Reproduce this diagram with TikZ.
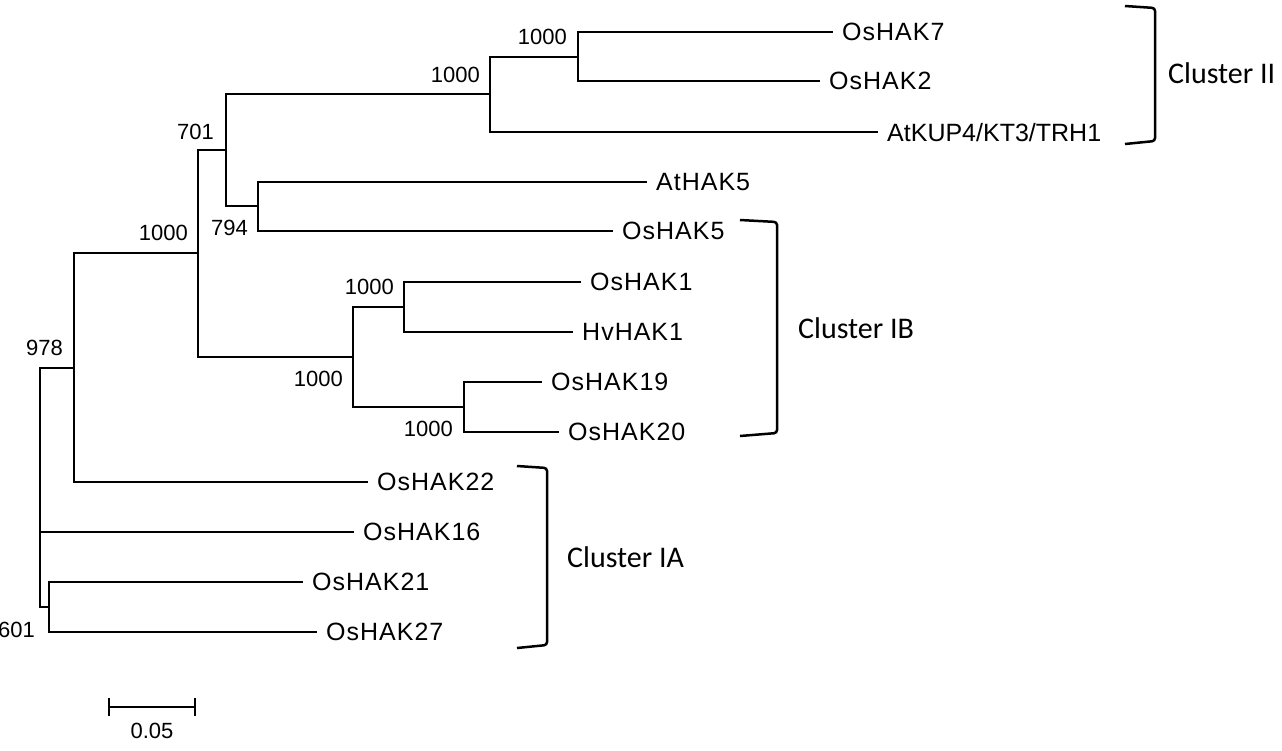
\documentclass[tikz,border=0pt]{standalone}
\usepackage{fontspec}
\setmainfont{Liberation Sans}
\newfontfamily\clusterfont{Carlito}
\usetikzlibrary{positioning}

\begin{document}
\begin{tikzpicture}[x=1pt,y=-1pt,
   branch/.style={line width=2pt},
   taxon/.style={anchor=west,inner xsep=9pt,inner ysep=0pt,text depth=0pt,
     font=\fontsize{25}{29}\selectfont\addfontfeatures{LetterSpace=4}},
   boot/.style={anchor=east,inner sep=0pt,font=\fontsize{22}{26}\selectfont},
   clade/.style={line width=2.5pt,rounded corners=3pt},
   cluster/.style={anchor=west,inner sep=0pt,font=\clusterfont\fontsize{30}{36}\selectfont}]
  \useasboundingbox (0,0) rectangle (1282,750);
  % internal nodes of the tree
  \coordinate (root) at (40,487);
  \coordinate (n978) at (74,368);
  \coordinate (n601) at (49,607);
  \coordinate (nI) at (198,253);
  \coordinate (n701) at (226,150);
  \coordinate (nII) at (490,94);
  \coordinate (n7) at (578,57);
  \coordinate (n794) at (258,206);
  \coordinate (nIB) at (353,357);
  \coordinate (n1) at (404,307);
  \coordinate (n19) at (464,407);
  % leaves
  \node[taxon] (OsHAK7) at (833,32) {OsHAK7};
  \node[taxon] (OsHAK2) at (820,81) {OsHAK2};
  \node[taxon,font=\fontsize{25}{29}\selectfont] (AtKUP4) at (878,132) {AtKUP4/KT3/TRH1};
  \node[taxon] (AtHAK5) at (647,182) {AtHAK5};
  \node[taxon] (OsHAK5) at (613,231) {OsHAK5};
  \node[taxon] (OsHAK1) at (581,282) {OsHAK1};
  \node[taxon] (HvHAK1) at (573,332) {HvHAK1};
  \node[taxon] (OsHAK19) at (542,382) {OsHAK19};
  \node[taxon] (OsHAK20) at (559,432) {OsHAK20};
  \node[taxon] (OsHAK22) at (368,482) {OsHAK22};
  \node[taxon] (OsHAK16) at (354,532) {OsHAK16};
  \node[taxon] (OsHAK21) at (303,582) {OsHAK21};
  \node[taxon] (OsHAK27) at (317,632) {OsHAK27};
  % branches
  \draw[branch] (root) |- (n978);
  \draw[branch] (root) |- (OsHAK16.west);
  \draw[branch] (root) |- (n601);
  \draw[branch] (n601) |- (OsHAK21.west);
  \draw[branch] (n601) |- (OsHAK27.west);
  \draw[branch] (n978) |- (nI);
  \draw[branch] (n978) |- (OsHAK22.west);
  \draw[branch] (nI) |- (n701);
  \draw[branch] (nI) |- (nIB);
  \draw[branch] (n701) |- (nII);
  \draw[branch] (n701) |- (n794);
  \draw[branch] (nII) |- (n7);
  \draw[branch] (nII) |- (AtKUP4.west);
  \draw[branch] (n7) |- (OsHAK7.west);
  \draw[branch] (n7) |- (OsHAK2.west);
  \draw[branch] (n794) |- (AtHAK5.west);
  \draw[branch] (n794) |- (OsHAK5.west);
  \draw[branch] (nIB) |- (n1);
  \draw[branch] (nIB) |- (n19);
  \draw[branch] (n1) |- (OsHAK1.west);
  \draw[branch] (n1) |- (HvHAK1.west);
  \draw[branch] (n19) |- (OsHAK19.west);
  \draw[branch] (n19) |- (OsHAK20.west);
  % bootstrap values
  \node[boot] (b7) at (567,37) {1000};
  \node[boot] (bII) at (480,75) {1000};
  \node[boot] (b701) at (214,132) {701};
  \node[boot] (b794) at (248,228) {794};
  \node[boot] (bI) at (188,233) {1000};
  \node[boot] (b1) at (394,287) {1000};
  \node[boot] (bIB) at (343,379) {1000};
  \node[boot] (b19) at (453,429) {1000};
  \node[boot] (b978) at (63,348) {978};
  \node[boot] (b601) at (35,630) {601};
  % cluster brackets
  \draw[clade] (1125,6) -- (1155,8) -- (1155,141) -- (1125,144);
  \draw[clade] (740,220) -- (777,222) -- (777,433) -- (740,436);
  \draw[clade] (517,466) -- (547,468) -- (547,645) -- (517,648);
  \node[cluster] (cII) at (1168,73) {Cluster II};
  \node[cluster] (cIB) at (798,328) {Cluster IB};
  \node[cluster] (cIA) at (567,557) {Cluster IA};
  % scale bar
  \coordinate (s0) at (109,707);
  \coordinate (s1) at (195,707);
  \draw[branch] (s0) -- (s1);
  \draw[branch] (109,698) -- (109,716);
  \draw[branch] (195,698) -- (195,716);
  \node[boot,anchor=center] (scale) at (152,731) {0.05};
\end{tikzpicture}
\end{document}
